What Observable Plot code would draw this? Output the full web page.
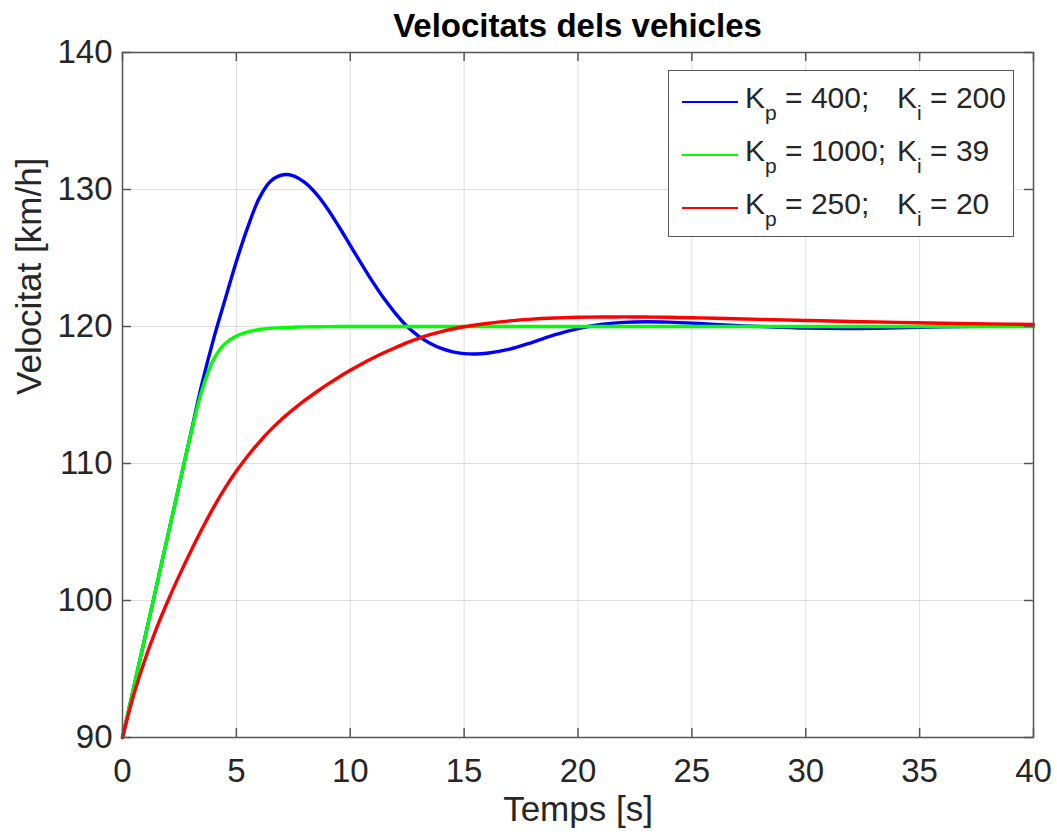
<!DOCTYPE html>
<html><head><meta charset="utf-8">
<script src="https://cdn.jsdelivr.net/npm/d3@7"></script>
<script src="https://cdn.jsdelivr.net/npm/@observablehq/plot@0.6"></script>
<style>
html,body{margin:0;padding:0;background:#fff;overflow:hidden}
#wrap{position:relative;width:1057px;height:839px;font-family:"Liberation Sans",Arial,Helvetica,sans-serif;color:#262626}
#title{position:absolute;left:77.5px;width:1000px;top:0;height:45px;text-align:center;font-weight:bold;font-size:33px;line-height:33px;padding-top:9px;box-sizing:border-box;color:#000;white-space:nowrap}
#chart{position:absolute;left:0;top:45px}
#legend{position:absolute;left:668px;top:70px;width:346px;height:167px;box-sizing:border-box;border:1.5px solid #555;background:#fff}
.lg-line{position:absolute;left:682px;width:56px;height:2px}
.lg-txt{position:absolute;font-size:30px;line-height:30px;white-space:pre;color:#262626}
.lg-txt .sub{font-size:21px;position:relative;top:12px}
</style>
</head><body>
<div id="wrap">
  <div id="title"></div>
  <div id="chart"></div>
  <div id="legend"></div>
</div>
<script>
// ---- data ----
const titleText = "Velocitats dels vehicles";
const xLabel = "Temps [s]";
const yLabel = "Velocitat [km/h]";
const xTicks = [0, 5, 10, 15, 20, 25, 30, 35, 40];
const yTicks = [90, 100, 110, 120, 130, 140];
const kp = [400, 1000, 250];
const ki = [200, 39, 20];
const time = [0, 0.5, 1, 1.5, 2, 2.5, 3, 3.5, 4, 4.5, 5, 5.5, 6, 6.5, 7, 7.5, 8, 8.5,
  9, 9.5, 10, 10.5, 11, 11.5, 12, 12.5, 13, 13.5, 14, 14.5, 15, 15.5, 16,
  17, 18, 19, 20, 21, 22, 23, 24, 25, 26,
  28, 30, 32, 34, 36, 38, 40];
const vBlue = [90, 93.7, 97.4, 101.1, 104.8, 108.5, 112.2, 115.9, 119.1, 121.95, 124.75, 127.25, 129.35, 130.6, 131.06, 131.0, 130.52, 129.7,
  128.6, 127.3, 125.92, 124.55, 123.22, 122.0, 120.92, 120.0, 119.3, 118.78, 118.4, 118.15, 118.02, 117.99, 118.05,
  118.35, 118.85, 119.4, 119.85, 120.15, 120.3, 120.35, 120.32, 120.25, 120.15,
  120.0, 119.88, 119.85, 119.9, 119.97, 120.02, 120.04];
const vGreen = [90, 93.7, 97.4, 101.1, 104.8, 108.5, 112.15, 115.4, 117.6, 118.75, 119.3, 119.6, 119.78, 119.87, 119.92, 119.95, 119.97, 119.98,
  119.99, 120, 120, 120, 120, 120, 120, 120, 120, 120, 120, 120, 120, 120, 120,
  120, 120, 120, 120, 120, 120, 120, 120, 120, 120,
  120, 120, 120, 120, 120, 120, 120];
const vRed = [90, 93.15, 95.75, 98.0, 100.0, 101.85, 103.6, 105.25, 106.8, 108.2, 109.45, 110.55, 111.55, 112.45, 113.25, 113.95, 114.6, 115.2,
  115.77, 116.3, 116.8, 117.27, 117.7, 118.1, 118.47, 118.82, 119.13, 119.4, 119.63, 119.82, 119.98, 120.11, 120.22,
  120.41, 120.54, 120.62, 120.67, 120.69, 120.7, 120.69, 120.67, 120.64, 120.6,
  120.52, 120.44, 120.37, 120.3, 120.24, 120.19, 120.15];

// ---- styles ----
const colors = ["#0000ff", "#00ff00", "#ff0000"];
const seriesValues = [vBlue, vGreen, vRed];
const axisColor = "#555555";
const textColor = "#262626";
const plotW = 1057 - 122 - 24, plotH = 685, tickLen = 9;

document.getElementById("title").textContent = titleText;

const lineMarks = seriesValues.map((vals, i) =>
  Plot.line(time.map((t, j) => ({t, v: vals[j]})), {x: "t", y: "v", stroke: colors[i], strokeWidth: 3.4, curve: "catmull-rom"})
);

const chart = Plot.plot({
  width: 1057, height: 794,
  marginTop: 7, marginBottom: 102, marginLeft: 122, marginRight: 24,
  style: {fontFamily: '"Liberation Sans", Arial, Helvetica, sans-serif', color: textColor, background: "transparent", overflow: "visible"},
  x: {domain: [0, 40]},
  y: {domain: [90, 140]},
  marks: [
    Plot.gridX(xTicks, {stroke: textColor, strokeOpacity: 0.15, strokeWidth: 1}),
    Plot.gridY(yTicks, {stroke: textColor, strokeOpacity: 0.15, strokeWidth: 1}),
    ...lineMarks,
    Plot.frame({stroke: axisColor, strokeWidth: 1.5}),
    Plot.tickX(xTicks, {x: d => d, insetTop: plotH - tickLen, stroke: axisColor, strokeWidth: 1.5}),
    Plot.tickX(xTicks, {x: d => d, insetBottom: plotH - tickLen, stroke: axisColor, strokeWidth: 1.5}),
    Plot.tickY(yTicks, {y: d => d, insetRight: plotW - tickLen, stroke: axisColor, strokeWidth: 1.5}),
    Plot.tickY(yTicks, {y: d => d, insetLeft: plotW - tickLen, stroke: axisColor, strokeWidth: 1.5}),
    Plot.axisX(xTicks, {tickSize: 0, tickPadding: 21, fontSize: 33, label: null}),
    Plot.axisY(yTicks, {tickSize: 0, tickPadding: 10, fontSize: 33, label: null}),
    Plot.text([xLabel], {text: d => d, frameAnchor: "bottom", dy: 83.5, fontSize: 35, fill: textColor}),
    Plot.text([yLabel], {text: d => d, frameAnchor: "left", rotate: -90, dx: -93, fontSize: 35, fill: textColor})
  ]
});
document.getElementById("chart").appendChild(chart);

// ---- legend ----
const wrap = document.getElementById("wrap");
kp.forEach((p, i) => {
  const lineY = 101.7 + 53 * i;
  const base = 108.3 + 53 * i;
  const ln = document.createElement("div");
  ln.className = "lg-line";
  ln.style.top = (lineY - 1) + "px";
  ln.style.background = colors[i];
  wrap.appendChild(ln);
  const t1 = document.createElement("div");
  t1.className = "lg-txt";
  t1.style.left = "745px";
  t1.style.top = (base - 25.4) + "px";
  t1.innerHTML = 'K<span class="sub">p</span> = ' + p + ';';
  wrap.appendChild(t1);
  const t2 = document.createElement("div");
  t2.className = "lg-txt";
  t2.style.left = "897px";
  t2.style.top = (base - 25.4) + "px";
  t2.innerHTML = 'K<span class="sub">i</span> = ' + ki[i];
  wrap.appendChild(t2);
});
</script>
</body></html>
